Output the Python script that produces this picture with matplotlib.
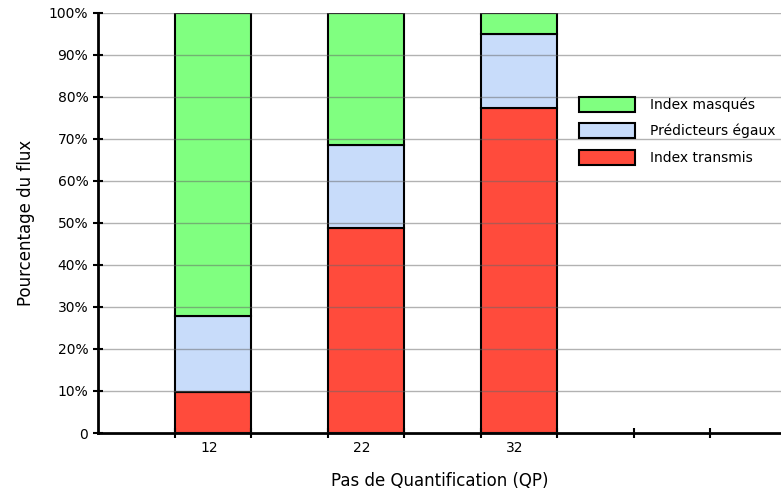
import matplotlib.pyplot as plt
import numpy as np

qp_labels = ['12', '22', '32']
index_transmis = [9.7, 48.8, 77.3]
predicteurs_egaux = [18.2, 19.8, 17.6]
index_masques = [72.1, 31.4, 5.1]

fig = plt.figure(figsize=(7.81, 4.98), dpi=100)
ax = fig.add_axes([98 / 781, 65 / 498, 1 - 98 / 781, 420 / 498])

# bars sit between integer ticks: [1,2], [3,4], [5,6]
left = np.arange(len(qp_labels)) * 2 + 1
bottom2 = np.array(index_transmis)
bottom3 = bottom2 + np.array(predicteurs_egaux)

kw = dict(width=1, align='edge', edgecolor='black', linewidth=1.5, zorder=2)
b1 = ax.bar(left, index_transmis, color='#ff4b3c', label='Index transmis', **kw)
b2 = ax.bar(left, predicteurs_egaux, bottom=bottom2, color='#c8dcfa', label='Prédicteurs égaux', **kw)
b3 = ax.bar(left, index_masques, bottom=bottom3, color='#80ff80', label='Index masqués', **kw)

ax.set_xlim(0, 683 / 76.5)
ax.set_ylim(0, 100)
ax.set_yticks(np.arange(0, 101, 10))
ax.set_yticklabels(['0'] + [f'{v}%' for v in range(10, 101, 10)], fontsize=10)
ax.yaxis.grid(True, color='#666666', alpha=0.5, linewidth=1, zorder=3)
ax.set_axisbelow(False)

ax.set_xticks(np.arange(1, 9))
ax.set_xticklabels([])
ax.set_xticks(left + 0.45, minor=True)
ax.set_xticklabels(qp_labels, minor=True, fontsize=10)
ax.tick_params(axis='x', which='minor', length=0, pad=6)
ax.tick_params(axis='both', which='major', direction='inout', length=7, width=1.5)

for s in ['top', 'right']:
    ax.spines[s].set_visible(False)
for s in ['left', 'bottom']:
    ax.spines[s].set_linewidth(2)

ax.set_ylabel('Pourcentage du flux', fontsize=12, labelpad=10)
ax.set_xlabel('Pas de Quantification (QP)', fontsize=12, labelpad=12)

ax.legend(handles=[b3, b2, b1], loc='upper left', bbox_to_anchor=(0.686, 0.83),
          frameon=False, fontsize=10, handlelength=4.0, handleheight=1.3,
          labelspacing=0.8, handletextpad=1.1)

fig.savefig('out.png', dpi=100)
